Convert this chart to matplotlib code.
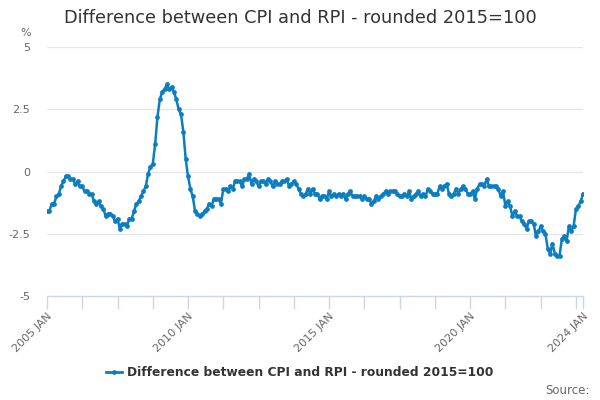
import numpy as np
import matplotlib
matplotlib.use("Agg")
import matplotlib.pyplot as plt
from matplotlib.lines import Line2D


# Monthly values, 2005 JAN .. 2024 JAN (percentage points)
diff_2005 = [-1.6, -1.6, -1.3, -1.3, -1.0, -0.9, -0.6, -0.4, -0.2, -0.2, -0.3, -0.3]
diff_2006 = [-0.5, -0.4, -0.6, -0.6, -0.8, -0.8, -0.9, -0.9, -1.2, -1.3, -1.2, -1.4]
diff_2007 = [-1.5, -1.8, -1.7, -1.7, -1.8, -2.0, -1.9, -2.3, -2.1, -2.1, -2.2, -1.9]
diff_2008 = [-1.9, -1.6, -1.3, -1.2, -1.0, -0.8, -0.6, -0.1, 0.2, 0.3, 1.1, 2.2]
diff_2009 = [2.9, 3.2, 3.3, 3.5, 3.3, 3.4, 3.2, 2.9, 2.5, 2.3, 1.6, 0.5]
diff_2010 = [-0.2, -0.7, -1.0, -1.6, -1.7, -1.8, -1.7, -1.6, -1.5, -1.3, -1.4, -1.1]
diff_2011 = [-1.1, -1.1, -1.3, -0.7, -0.7, -0.8, -0.6, -0.7, -0.4, -0.4, -0.4, -0.6]
diff_2012 = [-0.3, -0.3, -0.1, -0.5, -0.3, -0.4, -0.6, -0.4, -0.4, -0.5, -0.3, -0.4]
diff_2013 = [-0.6, -0.4, -0.5, -0.5, -0.4, -0.4, -0.3, -0.6, -0.5, -0.4, -0.5, -0.7]
diff_2014 = [-0.9, -1.0, -0.9, -0.7, -0.9, -0.7, -0.9, -0.9, -1.1, -1.0, -1.0, -1.1]
diff_2015 = [-0.8, -1.0, -0.9, -1.0, -0.9, -1.0, -0.9, -1.1, -0.9, -0.8, -1.0, -1.0]
diff_2016 = [-1.0, -1.0, -1.1, -1.0, -1.1, -1.1, -1.3, -1.2, -1.0, -1.1, -1.0, -0.9]
diff_2017 = [-0.8, -0.9, -0.8, -0.8, -0.8, -0.9, -1.0, -1.0, -0.9, -1.0, -0.8, -1.1]
diff_2018 = [-1.0, -0.9, -0.8, -1.0, -0.9, -1.0, -0.7, -0.8, -0.9, -0.9, -0.9, -0.6]
diff_2019 = [-0.7, -0.6, -0.5, -0.9, -1.0, -0.9, -0.7, -0.9, -0.7, -0.6, -0.7, -0.9]
diff_2020 = [-0.9, -0.8, -1.1, -0.7, -0.5, -0.5, -0.6, -0.3, -0.6, -0.6, -0.6, -0.6]
diff_2021 = [-0.7, -1.0, -0.8, -1.4, -1.2, -1.4, -1.8, -1.6, -1.8, -1.8, -2.0, -2.1]
diff_2022 = [-2.3, -2.0, -2.0, -2.1, -2.6, -2.4, -2.2, -2.4, -2.5, -3.1, -3.3, -2.9]
diff_2023 = [-3.3, -3.4, -3.4, -2.7, -2.6, -2.8, -2.2, -2.4, -2.2, -1.5, -1.4, -1.2]
diff_2024 = [-0.9]

values = (diff_2005 + diff_2006 + diff_2007 + diff_2008 + diff_2009 + diff_2010
          + diff_2011 + diff_2012 + diff_2013 + diff_2014 + diff_2015 + diff_2016
          + diff_2017 + diff_2018 + diff_2019 + diff_2020 + diff_2021 + diff_2022
          + diff_2023 + diff_2024)

series_name = "Difference between CPI and RPI - rounded 2015=100"
y_ticks = [-5, -2.5, 0, 2.5, 5]
y_labels = ["-5", "-2.5", "0", "2.5", "5"]
x_labels = {0: "2005 JAN", 60: "2010 JAN", 120: "2015 JAN", 180: "2020 JAN", 228: "2024 JAN"}

blue = "#0b7dc1"
grey = "#666666"
axis_col = "#ccd6eb"

months = np.arange(len(values))

fig = plt.figure(figsize=(6, 4), dpi=100)
ax = fig.add_axes([0.0783, 0.26, 0.8934, 0.6225])

ax.plot(months, values, color=blue, lw=1.8, marker="o", ms=2.4, zorder=3)

ax.set_xlim(0, len(values) - 1)
ax.set_ylim(-5, 5)

# horizontal grid
for y in y_ticks[1:]:
    ax.axhline(y, color="#e6e6e6", lw=1, zorder=1)
ax.set_yticks(y_ticks)
ax.set_yticklabels(y_labels)
ax.tick_params(axis="y", length=0, pad=12, labelsize=8, labelcolor=grey)

# x ticks every 15 months plus the last month
xt = list(range(0, len(values), 15)) + [len(values) - 1]
ax.set_xticks(xt)
ax.set_xticklabels([x_labels.get(t, "") for t in xt], rotation=45,
                   ha="right", rotation_mode="anchor")
ax.tick_params(axis="x", length=9, width=1, color=axis_col, labelsize=8,
               labelcolor=grey, pad=2)

for s in ["top", "right", "left"]:
    ax.spines[s].set_visible(False)
ax.spines["bottom"].set_color(axis_col)
ax.spines["bottom"].set_linewidth(1)

fig.text(0.5, 0.955, series_name, ha="center", va="center", fontsize=12.8, color="#333333")
fig.text(0.042, 0.918, "%", ha="center", va="center", fontsize=8, color=grey)

handle = Line2D([], [], color=blue, lw=2, marker="o", ms=2.4)
fig.legend([handle], [series_name], loc="center", bbox_to_anchor=(0.5, 0.068),
           frameon=False, handlelength=1.3, handletextpad=0.4,
           prop={"size": 8.8, "weight": "bold"}, labelcolor="#333333")

fig.text(0.982, 0.025, "Source:", ha="right", va="center", fontsize=8.5, color=grey)

fig.savefig("out.png", dpi=100)
